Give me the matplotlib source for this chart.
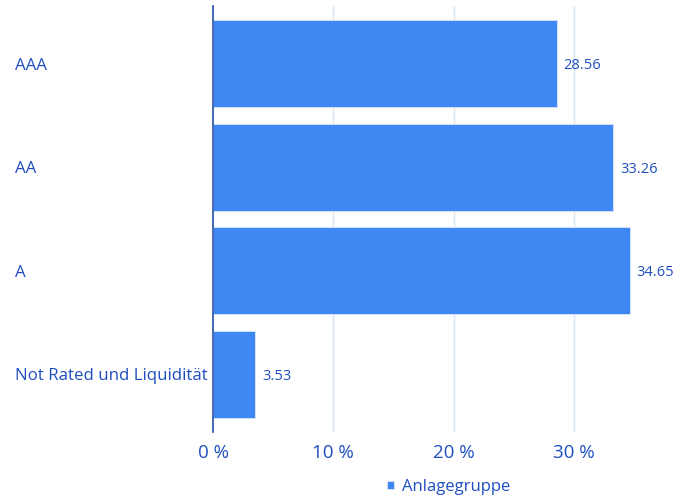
import matplotlib.pyplot as plt
import matplotlib.transforms as mtransforms

plt.rcParams["font.family"] = ["Open Sans", "DejaVu Sans"]

categories = ["AAA", "AA", "A", "Not Rated und Liquidität"]
values = [28.56, 33.26, 34.65, 3.53]
xticks = [0, 10, 20, 30]
series_name = "Anlagegruppe"

BAR = "#3f88f3"
TEXT = "#1f4fbf"
GRID = "#d9e6f8"

fig = plt.figure(figsize=(6.94, 5.01), dpi=100)
ax = fig.add_axes([213 / 694, 1 - 432 / 501, (646 - 213) / 694, 426 / 501])

ypos = list(range(len(categories)))
bars = ax.barh(ypos, values, height=0.84, color=BAR, edgecolor="#dce8fb",
               linewidth=0.6, zorder=2, label=series_name)
ax.set_ylim(3.555, -0.555)
ax.set_xlim(0, 36)

ax.set_xticks(xticks)
ax.set_xticklabels([f"{t} %" for t in xticks], fontsize=13.5, color=TEXT)
ax.tick_params(axis="x", length=0, pad=9)
ax.set_yticks([])
ax.grid(axis="x", color=GRID, linewidth=1, zorder=0)

for s in ["top", "right", "bottom"]:
    ax.spines[s].set_visible(False)
ax.spines["left"].set_color("#2a4fa6")
ax.spines["left"].set_linewidth(1.2)
ax.spines["left"].set_zorder(3)

# category labels aligned left at figure edge
trans = mtransforms.blended_transform_factory(fig.transFigure, ax.transData)
for y, c in zip(ypos, categories):
    ax.text(15 / 694, y, c, transform=trans, ha="left", va="center_baseline",
            fontsize=12.2, color=TEXT)

for b, v in zip(bars, values):
    ax.annotate(f"{v:.2f}", (v, b.get_y() + b.get_height() / 2),
                xytext=(5, 0), textcoords="offset points",
                ha="left", va="center_baseline", fontsize=10.5, color=TEXT)

fig.legend(handles=[bars], labels=[series_name], loc="center",
           bbox_to_anchor=(449 / 694, 1 - 487 / 501), frameon=False,
           fontsize=12, labelcolor=TEXT, handlelength=0.4, handleheight=0.4,
           handletextpad=0.5)

fig.savefig("out.png", dpi=100)
